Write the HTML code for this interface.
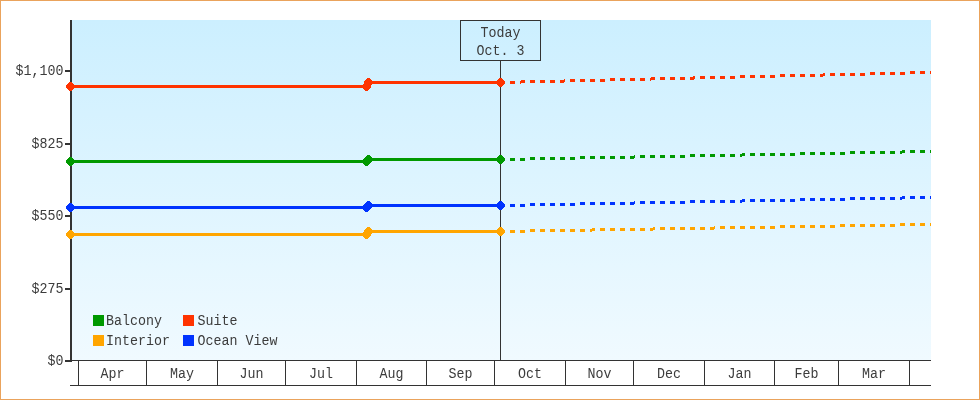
<!DOCTYPE html>
<html><head><meta charset="utf-8"><style>
html,body{margin:0;padding:0;background:#fff;}
.wrap{position:relative;width:978px;height:398px;border:1px solid #eaa35c;overflow:hidden;}
svg{position:absolute;left:-1px;top:-1px;will-change:transform;}
.t{font-family:"Liberation Mono",monospace;font-size:15.2px;fill:#3c3c3c;}
</style></head><body><div class="wrap"><svg width="980" height="400" viewBox="0 0 980 400">
<defs><linearGradient id="bg" x1="0" y1="0" x2="0" y2="1"><stop offset="0" stop-color="#ccefff"/><stop offset="1" stop-color="#f0faff"/></linearGradient><clipPath id="pc"><rect x="60" y="20" width="871" height="345"/></clipPath></defs>
<rect x="72" y="20" width="859" height="340" fill="url(#bg)"/>
<rect x="72" y="360" width="859" height="1" fill="#333333"/>
<rect x="70" y="385" width="861" height="1" fill="#333333"/>
<rect x="78" y="360" width="1" height="25" fill="#333333"/>
<rect x="146" y="360" width="1" height="25" fill="#333333"/>
<rect x="217" y="360" width="1" height="25" fill="#333333"/>
<rect x="285" y="360" width="1" height="25" fill="#333333"/>
<rect x="356" y="360" width="1" height="25" fill="#333333"/>
<rect x="426" y="360" width="1" height="25" fill="#333333"/>
<rect x="494" y="360" width="1" height="25" fill="#333333"/>
<rect x="565" y="360" width="1" height="25" fill="#333333"/>
<rect x="633" y="360" width="1" height="25" fill="#333333"/>
<rect x="704" y="360" width="1" height="25" fill="#333333"/>
<rect x="774" y="360" width="1" height="25" fill="#333333"/>
<rect x="838" y="360" width="1" height="25" fill="#333333"/>
<rect x="909" y="360" width="1" height="25" fill="#333333"/>
<text transform="translate(112.5,378) scale(0.877,1)" text-anchor="middle" class="t">Apr</text>
<text transform="translate(182,378) scale(0.877,1)" text-anchor="middle" class="t">May</text>
<text transform="translate(251.5,378) scale(0.877,1)" text-anchor="middle" class="t">Jun</text>
<text transform="translate(321,378) scale(0.877,1)" text-anchor="middle" class="t">Jul</text>
<text transform="translate(391.5,378) scale(0.877,1)" text-anchor="middle" class="t">Aug</text>
<text transform="translate(460.5,378) scale(0.877,1)" text-anchor="middle" class="t">Sep</text>
<text transform="translate(530,378) scale(0.877,1)" text-anchor="middle" class="t">Oct</text>
<text transform="translate(599.5,378) scale(0.877,1)" text-anchor="middle" class="t">Nov</text>
<text transform="translate(669,378) scale(0.877,1)" text-anchor="middle" class="t">Dec</text>
<text transform="translate(739.5,378) scale(0.877,1)" text-anchor="middle" class="t">Jan</text>
<text transform="translate(806.5,378) scale(0.877,1)" text-anchor="middle" class="t">Feb</text>
<text transform="translate(874,378) scale(0.877,1)" text-anchor="middle" class="t">Mar</text>
<rect x="70" y="20" width="2" height="342" fill="#333333"/>
<rect x="65" y="70" width="6" height="2" fill="#333333"/>
<text transform="translate(63.5,74.5) scale(0.877,1)" text-anchor="end" class="t">$1,100</text>
<rect x="65" y="143" width="6" height="2" fill="#333333"/>
<text transform="translate(63.5,147.5) scale(0.877,1)" text-anchor="end" class="t">$825</text>
<rect x="65" y="215" width="6" height="2" fill="#333333"/>
<text transform="translate(63.5,219.5) scale(0.877,1)" text-anchor="end" class="t">$550</text>
<rect x="65" y="288" width="6" height="2" fill="#333333"/>
<text transform="translate(63.5,292.5) scale(0.877,1)" text-anchor="end" class="t">$275</text>
<rect x="65" y="360" width="6" height="2" fill="#333333"/>
<text transform="translate(63.5,364.5) scale(0.877,1)" text-anchor="end" class="t">$0</text>
<rect x="500" y="60" width="1" height="300" fill="#333333"/>
<rect x="460.5" y="20.5" width="80" height="40" fill="none" stroke="#333333" stroke-width="1"/>
<text transform="translate(500.5,37) scale(0.877,1)" text-anchor="middle" class="t">Today</text>
<text transform="translate(500.5,55) scale(0.877,1)" text-anchor="middle" class="t">Oct. 3</text>
<g clip-path="url(#pc)" shape-rendering="crispEdges">
<line x1="70.5" y1="86.5" x2="366.5" y2="86.5" stroke="#ff3300" stroke-width="3"/>
<line x1="368.5" y1="82.5" x2="500.5" y2="82.5" stroke="#ff3300" stroke-width="3"/>
<line x1="500" y1="82.5" x2="935" y2="72.4072" stroke="#ff3300" stroke-width="3" stroke-dasharray="5 5"/>
<path d="M69 82h3v1h-3zM68 83h5v1h-5zM67 84h7v1h-7zM66 85h8v1h-8zM66 86h8v1h-8zM66 87h8v1h-8zM67 88h7v1h-7zM68 89h5v1h-5zM69 90h3v1h-3z" fill="#ff3300"/>
<path d="M365 82h3v1h-3zM364 83h5v1h-5zM363 84h7v1h-7zM363 85h8v1h-8zM363 86h8v1h-8zM363 87h8v1h-8zM363 88h7v1h-7zM364 89h5v1h-5zM365 90h3v1h-3z" fill="#ff3300"/>
<path d="M367 78h3v1h-3zM366 79h5v1h-5zM365 80h7v1h-7zM364 81h8v1h-8zM364 82h8v1h-8zM364 83h8v1h-8zM365 84h7v1h-7zM366 85h5v1h-5zM367 86h3v1h-3z" fill="#ff3300"/>
<path d="M499 78h3v1h-3zM498 79h5v1h-5zM497 80h7v1h-7zM497 81h8v1h-8zM497 82h8v1h-8zM497 83h8v1h-8zM497 84h7v1h-7zM498 85h5v1h-5zM499 86h3v1h-3z" fill="#ff3300"/>
<line x1="70.5" y1="161.5" x2="366.5" y2="161.5" stroke="#009900" stroke-width="3"/>
<line x1="368.5" y1="159.5" x2="500.5" y2="159.5" stroke="#009900" stroke-width="3"/>
<line x1="500" y1="159.5" x2="935" y2="151.407" stroke="#009900" stroke-width="3" stroke-dasharray="5 5"/>
<path d="M69 157h3v1h-3zM68 158h5v1h-5zM67 159h7v1h-7zM66 160h8v1h-8zM66 161h8v1h-8zM66 162h8v1h-8zM67 163h7v1h-7zM68 164h5v1h-5zM69 165h3v1h-3z" fill="#009900"/>
<path d="M365 157h3v1h-3zM364 158h5v1h-5zM363 159h7v1h-7zM363 160h8v1h-8zM363 161h8v1h-8zM363 162h8v1h-8zM363 163h7v1h-7zM364 164h5v1h-5zM365 165h3v1h-3z" fill="#009900"/>
<path d="M367 155h3v1h-3zM366 156h5v1h-5zM365 157h7v1h-7zM364 158h8v1h-8zM364 159h8v1h-8zM364 160h8v1h-8zM365 161h7v1h-7zM366 162h5v1h-5zM367 163h3v1h-3z" fill="#009900"/>
<path d="M499 155h3v1h-3zM498 156h5v1h-5zM497 157h7v1h-7zM497 158h8v1h-8zM497 159h8v1h-8zM497 160h8v1h-8zM497 161h7v1h-7zM498 162h5v1h-5zM499 163h3v1h-3z" fill="#009900"/>
<line x1="70.5" y1="207.5" x2="366.5" y2="207.5" stroke="#0033ff" stroke-width="3"/>
<line x1="368.5" y1="205.5" x2="500.5" y2="205.5" stroke="#0033ff" stroke-width="3"/>
<line x1="500" y1="205.5" x2="935" y2="197.407" stroke="#0033ff" stroke-width="3" stroke-dasharray="5 5"/>
<path d="M69 203h3v1h-3zM68 204h5v1h-5zM67 205h7v1h-7zM66 206h8v1h-8zM66 207h8v1h-8zM66 208h8v1h-8zM67 209h7v1h-7zM68 210h5v1h-5zM69 211h3v1h-3z" fill="#0033ff"/>
<path d="M365 203h3v1h-3zM364 204h5v1h-5zM363 205h7v1h-7zM363 206h8v1h-8zM363 207h8v1h-8zM363 208h8v1h-8zM363 209h7v1h-7zM364 210h5v1h-5zM365 211h3v1h-3z" fill="#0033ff"/>
<path d="M367 201h3v1h-3zM366 202h5v1h-5zM365 203h7v1h-7zM364 204h8v1h-8zM364 205h8v1h-8zM364 206h8v1h-8zM365 207h7v1h-7zM366 208h5v1h-5zM367 209h3v1h-3z" fill="#0033ff"/>
<path d="M499 201h3v1h-3zM498 202h5v1h-5zM497 203h7v1h-7zM497 204h8v1h-8zM497 205h8v1h-8zM497 206h8v1h-8zM497 207h7v1h-7zM498 208h5v1h-5zM499 209h3v1h-3z" fill="#0033ff"/>
<line x1="70.5" y1="234.5" x2="366.5" y2="234.5" stroke="#ffa500" stroke-width="3"/>
<line x1="368.5" y1="231.5" x2="500.5" y2="231.5" stroke="#ffa500" stroke-width="3"/>
<line x1="500" y1="231.5" x2="935" y2="224.407" stroke="#ffa500" stroke-width="3" stroke-dasharray="5 5"/>
<path d="M69 230h3v1h-3zM68 231h5v1h-5zM67 232h7v1h-7zM66 233h8v1h-8zM66 234h8v1h-8zM66 235h8v1h-8zM67 236h7v1h-7zM68 237h5v1h-5zM69 238h3v1h-3z" fill="#ffa500"/>
<path d="M365 230h3v1h-3zM364 231h5v1h-5zM363 232h7v1h-7zM363 233h8v1h-8zM363 234h8v1h-8zM363 235h8v1h-8zM363 236h7v1h-7zM364 237h5v1h-5zM365 238h3v1h-3z" fill="#ffa500"/>
<path d="M367 227h3v1h-3zM366 228h5v1h-5zM365 229h7v1h-7zM364 230h8v1h-8zM364 231h8v1h-8zM364 232h8v1h-8zM365 233h7v1h-7zM366 234h5v1h-5zM367 235h3v1h-3z" fill="#ffa500"/>
<path d="M499 227h3v1h-3zM498 228h5v1h-5zM497 229h7v1h-7zM497 230h8v1h-8zM497 231h8v1h-8zM497 232h8v1h-8zM497 233h7v1h-7zM498 234h5v1h-5zM499 235h3v1h-3z" fill="#ffa500"/>
</g>
<rect x="93" y="315" width="11" height="11" fill="#009900"/>
<text transform="translate(106,325) scale(0.877,1)" text-anchor="start" class="t">Balcony</text>
<rect x="183" y="315" width="11" height="11" fill="#ff3300"/>
<text transform="translate(197.6,325) scale(0.877,1)" text-anchor="start" class="t">Suite</text>
<rect x="93" y="335" width="11" height="11" fill="#ffa500"/>
<text transform="translate(106,345) scale(0.877,1)" text-anchor="start" class="t">Interior</text>
<rect x="183" y="335" width="11" height="11" fill="#0033ff"/>
<text transform="translate(197.6,345) scale(0.877,1)" text-anchor="start" class="t">Ocean View</text>
</svg></div></body></html>
